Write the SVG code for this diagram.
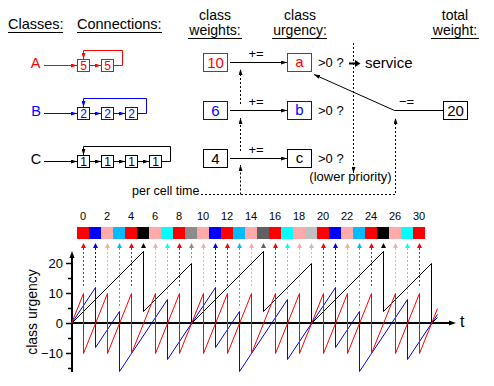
<svg xmlns="http://www.w3.org/2000/svg" width="494" height="386" viewBox="0 0 494 386">
<style>
text{font-family:"Liberation Sans",Arial,Helvetica,sans-serif;fill:#000}
.h{font-size:14.5px}
.h2{font-size:14px}
.m{font-size:13px}
.n{font-size:11px;text-anchor:middle}
.c{text-anchor:middle}
.u{stroke:#000;stroke-width:1}
.ln{fill:none;stroke:#000;stroke-width:1}
.dot{fill:none;stroke:#000;stroke-width:1;stroke-dasharray:2,2}
.box{fill:#fff;stroke-width:1}
.tr{fill:#f00}.tb{fill:#00f}
.R{fill:#f00;stroke:#f00}.B{fill:#00f;stroke:#00f}.P{fill:#ffaaaa;stroke:#ffaaaa}
.L{fill:#00bbff;stroke:#00bbff}.C{fill:#00ffff;stroke:#00ffff}.K{fill:#000;stroke:#000}
.G{fill:#8c8c8c;stroke:#8c8c8c}.D{fill:#606060;stroke:#606060}.S{fill:#c0c0c0;stroke:#c0c0c0}
.cells rect{stroke:none}
.ar polygon{stroke:none}
.ar line{stroke-dasharray:2,2;stroke-width:1}
.crv{fill:none;stroke-width:1}
</style>
<defs>
<marker id="ak" viewBox="0 0 6 4" refX="6" refY="2" markerWidth="6" markerHeight="4" markerUnits="userSpaceOnUse" orient="auto"><path d="M0,0L6,2L0,4z" fill="#000"/></marker>
<marker id="ar" viewBox="0 0 6 4" refX="6" refY="2" markerWidth="6" markerHeight="4" markerUnits="userSpaceOnUse" orient="auto"><path d="M0,0L6,2L0,4z" fill="#f00"/></marker>
<marker id="ab" viewBox="0 0 6 4" refX="6" refY="2" markerWidth="6" markerHeight="4" markerUnits="userSpaceOnUse" orient="auto"><path d="M0,0L6,2L0,4z" fill="#00f"/></marker>
</defs>

<!-- headers -->
<g id="headers">
<text class="h" x="8" y="29">Classes:</text>
<line class="u" x1="8" y1="32.5" x2="63" y2="32.5"/>
<text class="h" x="77" y="29">Connections:</text>
<line class="u" x1="77" y1="32.5" x2="162" y2="32.5"/>
<text class="h2 c" x="215" y="19.5">class</text>
<text class="h2 c" x="215" y="34.5">weights:</text>
<line class="u" x1="188" y1="38.5" x2="242" y2="38.5"/>
<text class="h2 c" x="300" y="19.5">class</text>
<text class="h2 c" x="300" y="34.5">urgency:</text>
<line class="u" x1="272" y1="38.5" x2="327" y2="38.5"/>
<text class="h2 c" x="455" y="19.5">total</text>
<text class="h2 c" x="455" y="34.5">weight:</text>
<line class="u" x1="431" y1="38.5" x2="479" y2="38.5"/>
</g>

<!-- class labels -->
<g id="classA"><text class="h c tr" x="35.5" y="68">A</text></g>
<g id="classB"><text class="h c tb" x="36" y="116">B</text></g>
<g id="classC"><text class="h c" x="36" y="164">C</text></g>

<!-- connection boxes -->
<g id="connA">
<rect class="box" stroke="#f00" x="77.5" y="59.5" width="12" height="12"/><text class="c tr" x="83.5" y="70" font-size="12">5</text>
<rect class="box" stroke="#f00" x="101.5" y="59.5" width="12" height="12"/><text class="c tr" x="107.5" y="70" font-size="12">5</text>
</g>
<g id="connB">
<rect class="box" stroke="#00f" x="77.5" y="107.5" width="12" height="12"/><text class="c tb" x="83.5" y="118" font-size="12">2</text>
<rect class="box" stroke="#00f" x="101.5" y="107.5" width="12" height="12"/><text class="c tb" x="107.5" y="118" font-size="12">2</text>
<rect class="box" stroke="#00f" x="125.5" y="107.5" width="12" height="12"/><text class="c tb" x="131.5" y="118" font-size="12">2</text>
</g>
<g id="connC">
<rect class="box" stroke="#000" x="77.5" y="155.5" width="12" height="12"/><text class="c" x="83.5" y="166" font-size="12">1</text>
<rect class="box" stroke="#000" x="101.5" y="155.5" width="12" height="12"/><text class="c" x="107.5" y="166" font-size="12">1</text>
<rect class="box" stroke="#000" x="125.5" y="155.5" width="12" height="12"/><text class="c" x="131.5" y="166" font-size="12">1</text>
<rect class="box" stroke="#000" x="149.5" y="155.5" width="12" height="12"/><text class="c" x="155.5" y="166" font-size="12">1</text>
</g>

<!-- weights -->
<g id="weightA"><rect class="box" stroke="#f00" x="203.5" y="53.5" width="24" height="18"/><text class="c tr" x="215.5" y="68" font-size="15">10</text></g>
<g id="weightB"><rect class="box" stroke="#00f" x="203.5" y="101.5" width="24" height="18"/><text class="c tb" x="215.5" y="116" font-size="15">6</text></g>
<g id="weightC"><rect class="box" stroke="#000" x="203.5" y="149.5" width="24" height="18"/><text class="c" x="215.5" y="164" font-size="15">4</text></g>

<!-- urgencies -->
<g id="urgA"><rect class="box" stroke="#f00" x="287.5" y="53.5" width="24" height="18"/><text class="c tr" x="299.5" y="67" font-size="15">a</text><text class="m" x="318" y="67">&gt;0 ?</text></g>
<g id="urgB"><rect class="box" stroke="#00f" x="287.5" y="101.5" width="24" height="18"/><text class="c tb" x="299.5" y="115" font-size="15">b</text><text class="m" x="318" y="115">&gt;0 ?</text></g>
<g id="urgC"><rect class="box" stroke="#000" x="287.5" y="149.5" width="24" height="18"/><text class="c" x="299.5" y="163" font-size="15">c</text><text class="m" x="318" y="163">&gt;0 ?</text></g>

<g id="total"><rect class="box" stroke="#000" x="443.5" y="101.5" width="24" height="18"/><text class="c" x="455.5" y="116" font-size="15">20</text></g>

<g id="service"><text x="365" y="68" font-size="15">service</text></g>
<g id="lowprio"><text class="m c" x="350.5" y="181">(lower priority)</text></g>
<g id="percell"><text x="132" y="195" font-size="12.5">per cell time</text></g>

<!-- connectors -->
<g id="connectors">
<line x1="44" y1="65.5" x2="77" y2="65.5" stroke="#f00" marker-end="url(#ar)"/>
<line x1="89.5" y1="65.5" x2="101" y2="65.5" stroke="#f00" marker-end="url(#ar)"/>
<path d="M113.5,65.5H122.5V50.5H83.5V59" fill="none" stroke="#f00" marker-end="url(#ar)"/>

<line x1="44" y1="113.5" x2="77" y2="113.5" stroke="#00f" marker-end="url(#ab)"/>
<line x1="89.5" y1="113.5" x2="101" y2="113.5" stroke="#00f" marker-end="url(#ab)"/>
<line x1="113.5" y1="113.5" x2="125" y2="113.5" stroke="#00f" marker-end="url(#ab)"/>
<path d="M137.5,113.5H146.5V98.5H83.5V107" fill="none" stroke="#00f" marker-end="url(#ab)"/>

<line x1="44" y1="161.5" x2="77" y2="161.5" stroke="#000" marker-end="url(#ak)"/>
<line x1="89.5" y1="161.5" x2="101" y2="161.5" stroke="#000" marker-end="url(#ak)"/>
<line x1="113.5" y1="161.5" x2="125" y2="161.5" stroke="#000" marker-end="url(#ak)"/>
<line x1="137.5" y1="161.5" x2="149" y2="161.5" stroke="#000" marker-end="url(#ak)"/>
<path d="M161.5,161.5H170.5V146.5H83.5V155" fill="none" stroke="#000" marker-end="url(#ak)"/>

<line class="ln" x1="230" y1="62.5" x2="287" y2="62.5" marker-end="url(#ak)"/>
<line class="ln" x1="230" y1="110.5" x2="287" y2="110.5" marker-end="url(#ak)"/>
<line class="ln" x1="230" y1="158.5" x2="287" y2="158.5" marker-end="url(#ak)"/>
<text class="m c" x="256" y="58">+=</text>
<text class="m c" x="256" y="106">+=</text>
<text class="m c" x="256" y="154">+=</text>

<line class="ln" x1="443" y1="110.5" x2="394.5" y2="110.5"/>
<line class="ln" x1="394.5" y1="110.5" x2="314" y2="74.5" marker-end="url(#ak)"/>
<text class="m c" x="406.5" y="106">−=</text>

<line x1="349" y1="63.5" x2="355" y2="63.5" stroke="#000" stroke-width="2"/>
<polygon points="355,60 360.5,63.5 355,67" fill="#000"/>

<line class="dot" x1="353.5" y1="43" x2="353.5" y2="173" marker-end="url(#ak)"/>

<polyline class="dot" points="201,194.5 395.5,194.5 395.5,118" marker-end="url(#ak)"/>
<line class="dot" x1="240.5" y1="194.5" x2="240.5" y2="165" marker-end="url(#ak)"/>
<line class="dot" x1="240.5" y1="151" x2="240.5" y2="118" marker-end="url(#ak)"/>
<line class="dot" x1="240.5" y1="104" x2="240.5" y2="69" marker-end="url(#ak)"/>
</g>

<!-- cell sequence -->
<g id="cellnums">
<text class="n" x="83" y="220">0</text><text class="n" x="107" y="220">2</text><text class="n" x="131" y="220">4</text><text class="n" x="155" y="220">6</text>
<text class="n" x="179" y="220">8</text><text class="n" x="203" y="220">10</text><text class="n" x="227" y="220">12</text><text class="n" x="251" y="220">14</text>
<text class="n" x="275" y="220">16</text><text class="n" x="299" y="220">18</text><text class="n" x="323" y="220">20</text><text class="n" x="347" y="220">22</text>
<text class="n" x="371" y="220">24</text><text class="n" x="395" y="220">26</text><text class="n" x="419" y="220">30</text>
</g>
<g id="cells" class="cells">
<rect class="R" x="77" y="227" width="12" height="12"/><rect class="B" x="89" y="227" width="12" height="12"/>
<rect class="P" x="101" y="227" width="12" height="12"/><rect class="L" x="113" y="227" width="12" height="12"/>
<rect class="R" x="125" y="227" width="12" height="12"/><rect class="K" x="137" y="227" width="12" height="12"/>
<rect class="P" x="149" y="227" width="12" height="12"/><rect class="C" x="161" y="227" width="12" height="12"/>
<rect class="R" x="173" y="227" width="12" height="12"/><rect class="G" x="185" y="227" width="12" height="12"/>
<rect class="P" x="197" y="227" width="12" height="12"/><rect class="B" x="209" y="227" width="12" height="12"/>
<rect class="R" x="221" y="227" width="12" height="12"/><rect class="L" x="233" y="227" width="12" height="12"/>
<rect class="P" x="245" y="227" width="12" height="12"/><rect class="D" x="257" y="227" width="12" height="12"/>
<rect class="R" x="269" y="227" width="12" height="12"/><rect class="C" x="281" y="227" width="12" height="12"/>
<rect class="P" x="293" y="227" width="12" height="12"/><rect class="S" x="305" y="227" width="12" height="12"/>
<rect class="R" x="317" y="227" width="12" height="12"/><rect class="B" x="329" y="227" width="12" height="12"/>
<rect class="P" x="341" y="227" width="12" height="12"/><rect class="L" x="353" y="227" width="12" height="12"/>
<rect class="R" x="365" y="227" width="12" height="12"/><rect class="K" x="377" y="227" width="12" height="12"/>
<rect class="P" x="389" y="227" width="12" height="12"/><rect class="C" x="401" y="227" width="12" height="12"/>
<rect class="R" x="413" y="227" width="12" height="12"/>
</g>
<g id="cellarrows" class="ar">
<g class="R"><polygon points="83.5,243 81,248 86,248"/><line x1="83.5" y1="248" x2="83.5" y2="288"/></g>
<g class="B"><polygon points="95.5,243 93,248 98,248"/><line x1="95.5" y1="248" x2="95.5" y2="282"/></g>
<g class="P"><polygon points="107.5,243 105,248 110,248"/><line x1="107.5" y1="248" x2="107.5" y2="288"/></g>
<g class="L"><polygon points="119.5,243 117,248 122,248"/><line x1="119.5" y1="248" x2="119.5" y2="306"/></g>
<g class="R"><polygon points="131.5,243 129,248 134,248"/><line x1="131.5" y1="248" x2="131.5" y2="288"/></g>
<g class="K"><polygon points="143.5,243 141,248 146,248"/></g>
<g class="P"><polygon points="155.5,243 153,248 158,248"/><line x1="155.5" y1="248" x2="155.5" y2="288"/></g>
<g class="C"><polygon points="167.5,243 165,248 170,248"/><line x1="167.5" y1="248" x2="167.5" y2="294"/></g>
<g class="R"><polygon points="179.5,243 177,248 182,248"/><line x1="179.5" y1="248" x2="179.5" y2="288"/></g>
<g class="G"><polygon points="191.5,243 189,248 194,248"/><line x1="191.5" y1="248" x2="191.5" y2="258"/></g>
<g class="P"><polygon points="203.5,243 201,248 206,248"/><line x1="203.5" y1="248" x2="203.5" y2="288"/></g>
<g class="B"><polygon points="215.5,243 213,248 218,248"/><line x1="215.5" y1="248" x2="215.5" y2="282"/></g>
<g class="R"><polygon points="227.5,243 225,248 230,248"/><line x1="227.5" y1="248" x2="227.5" y2="288"/></g>
<g class="L"><polygon points="239.5,243 237,248 242,248"/><line x1="239.5" y1="248" x2="239.5" y2="306"/></g>
<g class="P"><polygon points="251.5,243 249,248 254,248"/><line x1="251.5" y1="248" x2="251.5" y2="288"/></g>
<g class="D"><polygon points="263.5,243 261,248 266,248"/></g>
<g class="R"><polygon points="275.5,243 273,248 278,248"/><line x1="275.5" y1="248" x2="275.5" y2="288"/></g>
<g class="C"><polygon points="287.5,243 285,248 290,248"/><line x1="287.5" y1="248" x2="287.5" y2="294"/></g>
<g class="P"><polygon points="299.5,243 297,248 302,248"/><line x1="299.5" y1="248" x2="299.5" y2="288"/></g>
<g class="S"><polygon points="311.5,243 309,248 314,248"/><line x1="311.5" y1="248" x2="311.5" y2="258"/></g>
<g class="R"><polygon points="323.5,243 321,248 326,248"/><line x1="323.5" y1="248" x2="323.5" y2="288"/></g>
<g class="B"><polygon points="335.5,243 333,248 338,248"/><line x1="335.5" y1="248" x2="335.5" y2="282"/></g>
<g class="P"><polygon points="347.5,243 345,248 350,248"/><line x1="347.5" y1="248" x2="347.5" y2="288"/></g>
<g class="L"><polygon points="359.5,243 357,248 362,248"/><line x1="359.5" y1="248" x2="359.5" y2="306"/></g>
<g class="R"><polygon points="371.5,243 369,248 374,248"/><line x1="371.5" y1="248" x2="371.5" y2="288"/></g>
<g class="K"><polygon points="383.5,243 381,248 386,248"/></g>
<g class="P"><polygon points="395.5,243 393,248 398,248"/><line x1="395.5" y1="248" x2="395.5" y2="288"/></g>
<g class="C"><polygon points="407.5,243 405,248 410,248"/><line x1="407.5" y1="248" x2="407.5" y2="294"/></g>
<g class="R"><polygon points="419.5,243 417,248 422,248"/><line x1="419.5" y1="248" x2="419.5" y2="288"/></g>
</g>

<!-- chart -->
<g id="chart">
<line x1="72" y1="372" x2="72" y2="257" stroke="#000" stroke-width="2"/>
<polygon points="72,251 69.5,258 74.5,258" fill="#000"/>
<line x1="71" y1="323" x2="449" y2="323" stroke="#000" stroke-width="2"/>
<polygon points="456,323 449,320.5 449,325.5" fill="#000"/>
<g stroke="#000" stroke-width="1.5">
<line x1="66" y1="263.5" x2="72" y2="263.5"/><line x1="68" y1="278.5" x2="72" y2="278.5"/>
<line x1="66" y1="293.5" x2="72" y2="293.5"/><line x1="68" y1="308.5" x2="72" y2="308.5"/>
<line x1="66" y1="323.5" x2="72" y2="323.5"/><line x1="68" y1="338.5" x2="72" y2="338.5"/>
<line x1="66" y1="353.5" x2="72" y2="353.5"/><line x1="68" y1="368.5" x2="72" y2="368.5"/>
</g>
<g font-size="13" text-anchor="end">
<text x="63" y="268">20</text><text x="63" y="298">10</text><text x="63" y="328">0</text><text x="63" y="358">−10</text>
</g>
<text transform="translate(37,312) rotate(-90)" text-anchor="middle" font-size="14">class urgency</text>
<text x="460" y="327" font-size="16">t</text>
<path class="crv" stroke="#000" d="M71.5,323.5 L143.5,251.5 V311.5 L191.5,263.5 V323.5 L263.5,251.5 V311.5 L311.5,263.5 V323.5 L383.5,251.5 V311.5 L431.5,263.5 V323.5 L437.5,317.5"/>
<path class="crv" stroke="#00f" d="M71.5,323.5 L95.5,287.5 V347.5 L119.5,311.5 V371.5 L167.5,299.5 V359.5 L215.5,287.5 V347.5 L239.5,311.5 V371.5 L287.5,299.5 V359.5 L335.5,287.5 V347.5 L359.5,311.5 V371.5 L407.5,299.5 V359.5 L437.5,314.5"/>
<path class="crv" stroke="#f00" d="M71.5,323.5 L83.5,293.5 V353.5 L107.5,293.5 V353.5 L131.5,293.5 V353.5 L155.5,293.5 V353.5 L179.5,293.5 V353.5 L203.5,293.5 V353.5 L227.5,293.5 V353.5 L251.5,293.5 V353.5 L275.5,293.5 V353.5 L299.5,293.5 V353.5 L323.5,293.5 V353.5 L347.5,293.5 V353.5 L371.5,293.5 V353.5 L395.5,293.5 V353.5 L419.5,293.5 V353.5 L437.5,308.5"/>
</g>
</svg>
